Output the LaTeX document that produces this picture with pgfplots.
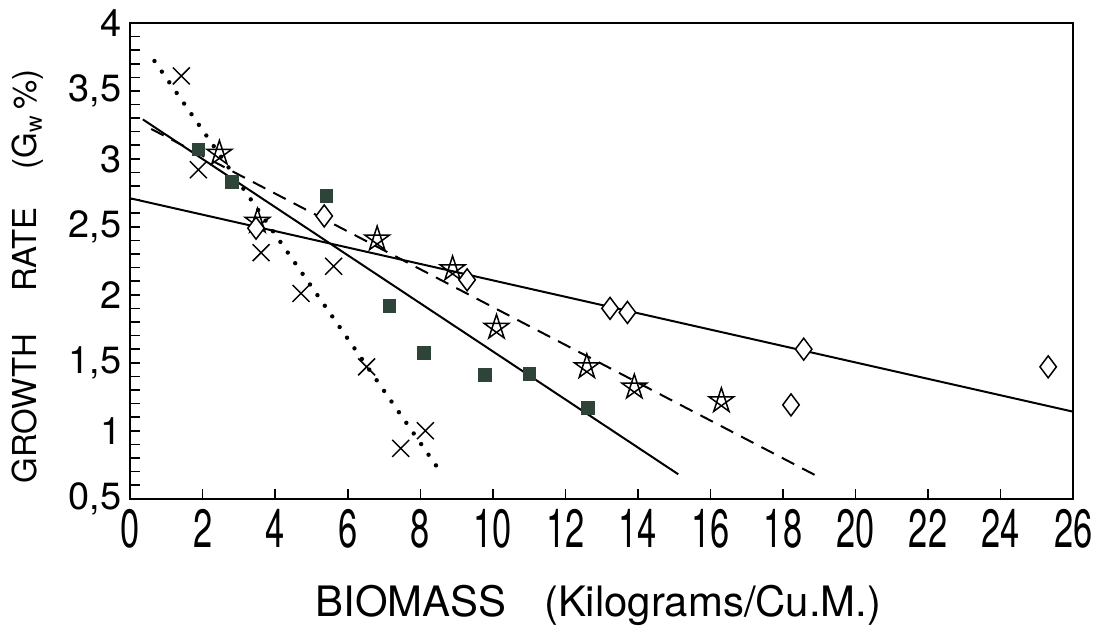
\documentclass[border=0pt]{standalone}
\usepackage{fontspec}
\setmainfont{TeX Gyre Heros}
\usepackage{graphicx}
\usepackage{pgfplots}
\pgfplotsset{compat=1.18}

% outlined five-pointed star drawn as a {5/2} star polygon
\pgfdeclareplotmark{pentagram}{%
  \pgfpathmoveto{\pgfpointpolar{90}{\pgfplotmarksize}}%
  \pgfpathlineto{\pgfpointpolar{234}{\pgfplotmarksize}}%
  \pgfpathlineto{\pgfpointpolar{18}{\pgfplotmarksize}}%
  \pgfpathlineto{\pgfpointpolar{162}{\pgfplotmarksize}}%
  \pgfpathlineto{\pgfpointpolar{306}{\pgfplotmarksize}}%
  \pgfpathclose
  \pgfusepathqstroke
}

\definecolor{squarefill}{HTML}{2F4438}

\begin{document}
\begin{tikzpicture}
\begin{axis}[
  scale only axis,
  width=472.75pt, height=238.5pt,
  xmin=0, xmax=26, ymin=0.5, ymax=4,
  axis line style={line width=1pt},
  xtick={0,2,...,26},
  ytick={0.5,1,1.5,2,2.5,3,3.5,4},
  minor y tick num=4,
  tick align=inside,
  xtick pos=bottom, ytick pos=left,
  major tick length=5pt, minor tick length=5pt,
  every tick/.style={black, line width=0.8pt},
  /pgf/number format/use comma,
  /pgf/number format/assume math mode=true,
  yticklabel style={font=\fontsize{19}{19}\selectfont, xshift=-1pt},
  xticklabel={\scalebox{0.64}[1]{\fontsize{27}{27}\selectfont\pgfmathprintnumber{\tick}}},
  xticklabel style={yshift=-2pt},
  xlabel={BIOMASS\hspace{0.9em}(Kilograms/Cu.M.)},
  xlabel style={font=\fontsize{21}{21}\selectfont, at={(axis description cs:0.4966,-0.2474)}, anchor=base},
  ylabel={GROWTH\hspace{21pt}RATE\hspace{19pt}(G\textsubscript{w}\,\%)},
  ylabel style={font=\fontsize{16.5}{16.5}\selectfont, at={(axis description cs:-0.1084,0.4675)}, anchor=center, rotate=0},
]

% fitted trend lines
\addplot[black, line width=2.2pt, line cap=round, dash pattern=on 0pt off 6.5pt]
  coordinates {(0.67,3.72) (8.60,0.68)};
\addplot[black, line width=1pt]
  coordinates {(0.35,3.29) (15.11,0.68)};
\addplot[black, line width=1pt, dash pattern=on 7pt off 4.5pt]
  coordinates {(0.58,3.22) (18.91,0.67)};
\addplot[black, line width=1pt]
  coordinates {(0,2.71) (26,1.14)};

% crosses
\addplot[only marks, mark=x, mark size=6pt, mark options={black, line width=0.75pt}]
  coordinates {(1.41,3.61) (1.88,2.92) (3.61,2.31) (4.71,2.01) (5.61,2.21) (6.52,1.47) (7.46,0.87) (8.14,1.00)};
% filled squares
\addplot[only marks, mark=square*, mark size=3.2pt, mark options={draw=squarefill, fill=squarefill}]
  coordinates {(1.88,3.07) (2.80,2.83) (5.41,2.73) (7.15,1.92) (8.10,1.57) (9.79,1.41) (11.01,1.42) (12.61,1.17)};
% stars
\addplot[only marks, mark=pentagram, mark size=6.5pt, mark options={black, line width=0.75pt}]
  coordinates {(2.46,3.04) (3.51,2.54) (6.81,2.41) (8.89,2.19) (10.10,1.76) (12.59,1.47) (13.90,1.32) (16.30,1.22)};
% open diamonds
\addplot[only marks, mark=diamond*, mark size=5.5pt, mark options={draw=black, fill=white, line width=0.75pt}]
  coordinates {(3.47,2.49) (5.35,2.58) (9.29,2.11) (13.23,1.90) (13.71,1.87) (18.22,1.19) (18.57,1.60) (25.31,1.47)};
\end{axis}
\path[use as bounding box] (-65.25pt,-63.5pt) rectangle (484.25pt,250pt);
\end{tikzpicture}
\end{document}
